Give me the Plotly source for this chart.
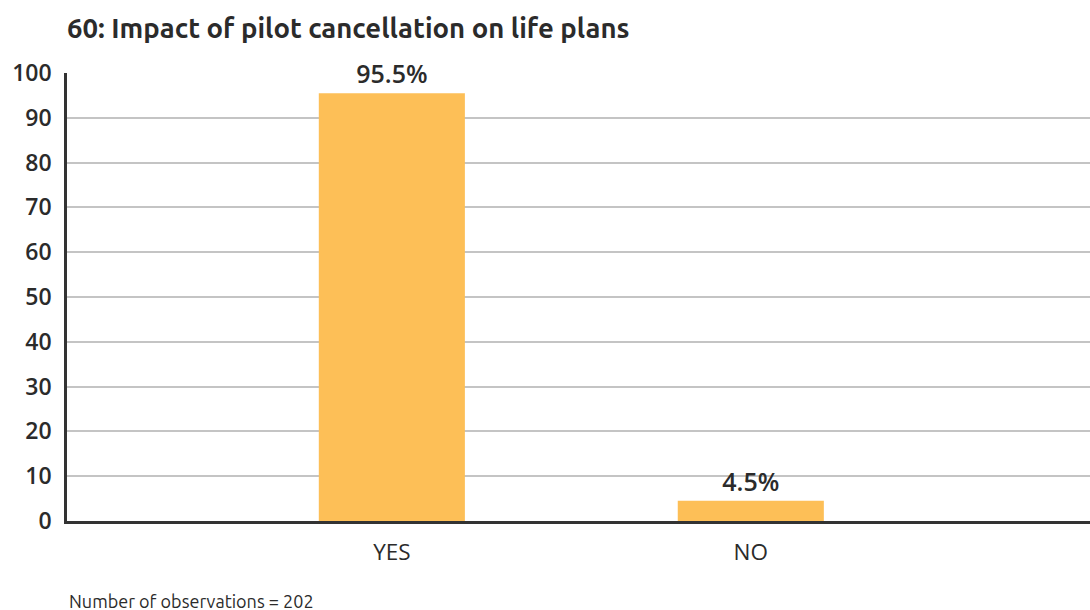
import plotly.graph_objects as go

categories = ["YES", "NO"]
shares = [95.5, 4.5]
bar_labels = ["95.5%", "4.5%"]
y_ticks = [0, 10, 20, 30, 40, 50, 60, 70, 80, 90, 100]

BAR_COLOR = "#FDBF57"
TEXT_COLOR = "#2b2b2b"

fig = go.Figure()
fig.add_trace(go.Bar(
    x=categories,
    y=shares,
    width=0.407,
    marker=dict(color=BAR_COLOR, line=dict(width=0)),
    text=bar_labels,
    textposition="outside",
    cliponaxis=False,
    textfont=dict(family="Open Sans", size=25, color=TEXT_COLOR, weight=600),
    hoverinfo="skip",
))

# soft shadow beneath the baseline
for i, op in enumerate([0.12, 0.09, 0.065, 0.045, 0.03, 0.02, 0.012, 0.006]):
    fig.add_shape(type="rect", xref="paper", yref="y",
                  x0=0, x1=1, y0=-0.45 - i * 0.45, y1=-0.9 - i * 0.45,
                  fillcolor="#000000", opacity=op, line=dict(width=0), layer="below")

fig.update_layout(
    width=1090, height=610,
    margin=dict(l=67, r=0, t=73, b=89),
    paper_bgcolor="white",
    plot_bgcolor="white",
    showlegend=False,
    title=dict(
        text="<b>60: Impact of pilot cancellation on life plans</b>",
        x=67 / 1090, xanchor="left", xref="container",
        y=1 - 28 / 610, yanchor="middle", yref="container",
        font=dict(family="Ubuntu, Open Sans", size=27.5, color=TEXT_COLOR),
    ),
    xaxis=dict(
        range=[-0.905, 1.945],
        showgrid=False,
        showline=True, linecolor="#333333", linewidth=2.5,
        ticks="", tickfont=dict(family="Open Sans", size=22.5, color=TEXT_COLOR),
        ticklabelstandoff=9,
        fixedrange=True,
    ),
    yaxis=dict(
        range=[0, 100],
        tickvals=y_ticks,
        showgrid=True, gridcolor="#c4c4c4", gridwidth=2,
        showline=True, linecolor="#333333", linewidth=2.5,
        zeroline=False,
        ticks="", ticklabelstandoff=8,
        tickfont=dict(family="Open Sans", size=23, color=TEXT_COLOR, weight=600),
        fixedrange=True,
    ),
    annotations=[dict(
        text="Number of observations = 202",
        xref="paper", yref="paper",
        x=0, y=-(601 - 521) / 448, xanchor="left", yanchor="middle",
        showarrow=False,
        font=dict(family="Ubuntu, Open Sans", size=18, color=TEXT_COLOR),
    )],
)

fig.write_html("out.html")
